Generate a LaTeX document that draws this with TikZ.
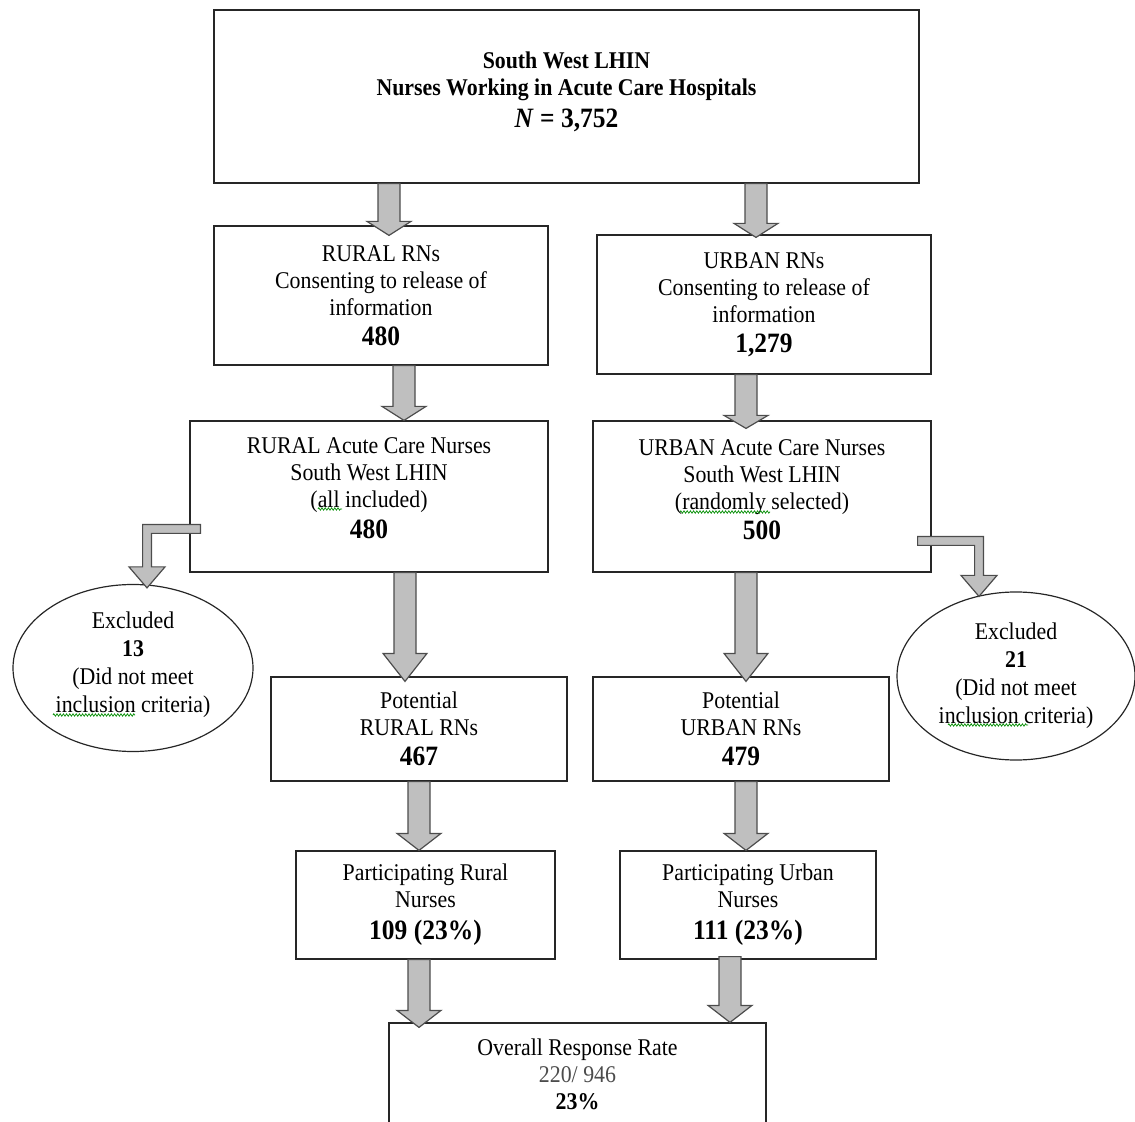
\documentclass[tikz,border=0pt]{standalone}
\usepackage{fontspec}
\setmainfont{Liberation Serif}[FakeStretch=0.91]
\usetikzlibrary{shapes.geometric,calc,decorations.pathmorphing}

\newcommand\bignum[1]{{\fontsize{14}{15}\selectfont\bfseries #1}}

\begin{document}
\begin{tikzpicture}[x=0.5pt,y=-0.5pt,font=\fontsize{12}{13.5}\selectfont,
  box/.style={rectangle,draw=black!85,line width=0.6pt,align=center,inner sep=0pt},
  excl/.style={ellipse,draw=black!85,line width=0.6pt,align=center,inner sep=0pt,
    font=\fontsize{12}{14}\selectfont},
  spell/.style={green!55!black,line width=0.35pt,decorate,
    decoration={zigzag,amplitude=0.6pt,segment length=1.6pt}},
  head len/.store in=\headlen, head len=7pt,
  fat arrow/.style={draw=black!70,fill=black!25,line width=0.6pt,
    to path={let \p1=(\tikztostart),\p2=(\tikztotarget) in
      (\x1-5.5pt,\y1) -- (\x1-5.5pt,\y2+\headlen) -- (\x1-11pt,\y2+\headlen) -- (\x1,\y2)
      -- (\x1+11pt,\y2+\headlen) -- (\x1+5.5pt,\y2+\headlen) -- (\x1+5.5pt,\y1) -- cycle}},
  elbow arrow/.style={draw=black!70,fill=black!25,line width=0.6pt,
    to path={let \p1=(\tikztostart),\p2=(\tikztotarget),\n1={sign(\x2-\x1)} in
      (\x1,\y1+2.2pt) -- (\x2+\n1*2.2pt,\y1+2.2pt) -- (\x2+\n1*2.2pt,\y2+10.5pt)
      -- (\x2+\n1*9pt,\y2+10.5pt) -- (\x2,\y2) -- (\x2-\n1*9pt,\y2+10.5pt)
      -- (\x2-\n1*2.2pt,\y2+10.5pt) -- (\x2-\n1*2.2pt,\y1-2.2pt) -- (\x1,\y1-2.2pt) -- cycle}}]

  \path[use as bounding box] (0,0) rectangle (1135,1122);
  \clip (0,0) rectangle (1135,1122);

  % boxes
  \node[box,minimum width=352.5pt,minimum height=86.5pt,font=\fontsize{12}{13.5}\selectfont\bfseries]
    (top) at (566.5,96.5) {South West LHIN\\ Nurses Working in Acute Care Hospitals\\[2.5pt]
    \bignum{\textit{N} = 3,752}\\[-7pt]\mbox{}};
  \node[box,minimum width=167pt,minimum height=69.5pt] (rural) at (381,295.5)
    {RURAL RNs\\ Consenting to release of\\ information\\[1.5pt] \bignum{480}};
  \node[box,minimum width=167pt,minimum height=69.5pt] (urban) at (764,304.5)
    {URBAN RNs\\ Consenting to release of\\ information\\[1.5pt] \bignum{1,279}};
  \node[box,minimum width=179pt,minimum height=75.5pt] (rurAc) at (369,496.5)
    {RURAL Acute Care Nurses\\ South West LHIN\\ (all included)\\[2pt]
    \bignum{480}\\[-5.5pt]\mbox{}};
  \node[box,minimum width=169pt,minimum height=75.5pt] (urbAc) at (762,496.5)
    {URBAN Acute Care Nurses\\ South West LHIN\\ (randomly selected)\\[1.5pt]
    \bignum{500}\\[-7pt]\mbox{}};
  \node[excl,minimum width=120pt,minimum height=83.5pt] (exL) at (133,668)
    {Excluded\\ \textbf{13}\\ (Did not meet\\ inclusion criteria)\\[-8pt]\mbox{}};
  \node[excl,minimum width=119pt,minimum height=84pt] (exR) at (1016,676)
    {Excluded\\ \textbf{21}\\ (Did not meet\\ inclusion criteria)\\[-11pt]\mbox{}};
  \node[box,minimum width=148pt,minimum height=52pt] (rurPot) at (419,729)
    {Potential\\ RURAL RNs\\[1.5pt] \bignum{467}};
  \node[box,minimum width=148pt,minimum height=52pt] (urbPot) at (741,729)
    {Potential\\ URBAN RNs\\[1.5pt] \bignum{479}};
  \node[box,minimum width=129.5pt,minimum height=54pt] (rurPart) at (425.5,905)
    {Participating Rural\\ Nurses\\[2.5pt] \bignum{109 (23\%)}};
  \node[box,minimum width=128pt,minimum height=54pt] (urbPart) at (748,905)
    {Participating Urban\\ Nurses\\[2.5pt] \bignum{111 (23\%)}};
  \node[box,minimum width=188.5pt,minimum height=51pt] (overall) at (577.5,1074)
    {Overall Response Rate\\ \textcolor{black!70}{220/ 946}\\ \textbf{23\%}};

  % spell-check squiggles
  \draw[spell] (318,509) -- (342,509);
  \draw[spell] (680,512) -- (770,512);
  \draw[spell] (53,715) -- (135,715);
  \draw[spell] (948,725) -- (1028,725);

  % block arrows
  \draw[fat arrow] (389,0 |- top.south) to ($(389,0 |- rural.north)+(0,10)$);
  \draw[fat arrow] (756,0 |- top.south) to ($(756,0 |- urban.north)+(0,3)$);
  \draw[fat arrow] (404,0 |- rural.south) to (404,0 |- rurAc.north);
  \draw[fat arrow,head len=6.5pt] (746,0 |- urban.south) to ($(746,0 |- urbAc.north)+(0,8)$);
  \draw[fat arrow,head len=14pt] (405,0 |- rurAc.south) to ($(405,0 |- rurPot.north)+(0,5)$);
  \draw[fat arrow,head len=14pt] (746,0 |- urbAc.south) to ($(746,0 |- urbPot.north)+(0,5)$);
  \draw[fat arrow,head len=8.5pt] (419,0 |- rurPot.south) to (419,0 |- rurPart.north);
  \draw[fat arrow,head len=8.5pt] (746,0 |- urbPot.south) to (746,0 |- urbPart.north);
  \draw[fat arrow,head len=8.5pt] (419,0 |- rurPart.south) to ($(419,0 |- overall.north)+(0,5)$);
  \draw[fat arrow,head len=8.5pt] ($(730,0 |- urbPart.south)+(0,-3)$) to (730,0 |- overall.north);
  \draw[elbow arrow] ($(rurAc.west |- 0,529)+(11,0)$) to ($(147,0 |- exL.north)+(0,4)$);
  \draw[elbow arrow] ($(urbAc.east |- 0,541)+(-14,0)$) to ($(979,0 |- exR.north)+(0,5)$);
\end{tikzpicture}
\end{document}
